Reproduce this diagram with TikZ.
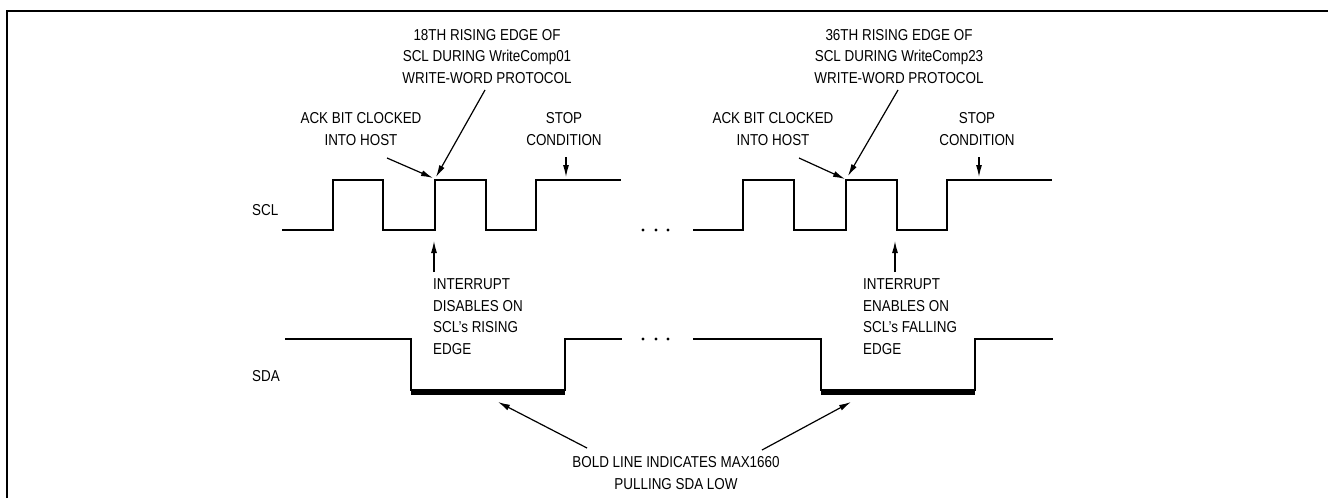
\documentclass[tikz,border=0pt]{standalone}
\usepackage{fontspec}
\setmainfont[FakeStretch=0.85]{Liberation Sans}
\usetikzlibrary{arrows.meta,positioning}

\begin{document}
\begin{tikzpicture}[x=1pt, y=-1pt, >={Latex[length=12pt,width=6pt]},
  lbl/.style={font=\fontsize{15.8}{21.5}\selectfont, align=center, inner sep=0pt},
  note/.style={lbl, align=left, anchor=west},
  wave/.style={line width=1.5pt},
  bold/.style={line width=5pt},
  ptr/.style={->, line width=1.2pt}]
  \useasboundingbox (0,0) rectangle (1328,498);
  \draw[line width=2.5pt] (7,498) -- (7,11) -- (1328,11);

  \node[lbl, anchor=west] (SCL) at (252,210) {SCL};
  \node[lbl, anchor=west] (SDA) at (252,376) {SDA};

  \node[lbl] (Edge18) at (487,56.5) {18TH RISING EDGE OF\\SCL DURING WriteComp01\\WRITE-WORD PROTOCOL};
  \node[lbl] (Ack1) at (361,129) {ACK BIT CLOCKED\\INTO HOST};
  \node[lbl] (Stop1) at (564,129) {STOP\\CONDITION};
  \node[lbl] (Edge36) at (899,56.5) {36TH RISING EDGE OF\\SCL DURING WriteComp23\\WRITE-WORD PROTOCOL};
  \node[lbl] (Ack2) at (773,129) {ACK BIT CLOCKED\\INTO HOST};
  \node[lbl] (Stop2) at (977,129) {STOP\\CONDITION};
  \node[note] (IntDis) at (433,316.5) {INTERRUPT\\DISABLES ON\\SCL’s RISING\\EDGE};
  \node[note] (IntEn) at (863,316.5) {INTERRUPT\\ENABLES ON\\SCL’s FALLING\\EDGE};
  \node[lbl] (Bold) at (676,473) {BOLD LINE INDICATES MAX1660\\PULLING SDA LOW};

  \draw[wave] (282,230) -- (333,230) -- (333,180) -- (383,180) -- (383,230) -- (435,230) -- (435,180)
    -- (486,180) -- (486,230) -- (536,230) -- (536,180) -- (621,180);
  \draw[wave] (693,230) -- (743,230) -- (743,180) -- (794,180) -- (794,230) -- (846,230) -- (846,180)
    -- (897,180) -- (897,230) -- (947,230) -- (947,180) -- (1052,180);
  \draw[wave] (285,339) -- (411,339) -- (411,390) -- (565,390) -- (565,339) -- (622,339);
  \draw[wave] (693,339) -- (821,339) -- (821,390) -- (975,390) -- (975,339) -- (1053,339);
  \draw[bold] (411,392.5) -- (565,392.5);
  \draw[bold] (821,392.5) -- (975,392.5);

  \foreach \x in {643,656,668} {
    \fill (\x,230) circle (1.6);
    \fill (\x,339) circle (1.6);
  }

  \coordinate (e18s) at (485,90);   \coordinate (e18t) at (436,177);
  \coordinate (a1s) at (387,158);   \coordinate (a1t) at (433,178);
  \coordinate (s1s) at (566,157);   \coordinate (s1t) at (566,177);
  \coordinate (e36s) at (898,90);   \coordinate (e36t) at (848,176);
  \coordinate (a2s) at (799,158);   \coordinate (a2t) at (845,179);
  \coordinate (s2s) at (979,157);   \coordinate (s2t) at (979,177);
  \coordinate (d1s) at (434,272);   \coordinate (d1t) at (434,241);
  \coordinate (n1s) at (895,272);   \coordinate (n1t) at (895,241);
  \coordinate (b1s) at (587,448);   \coordinate (b1t) at (498,402);
  \coordinate (b2s) at (762,450);   \coordinate (b2t) at (851,402);

  \draw[ptr] (e18s) -- (e18t);
  \draw[ptr] (a1s) -- (a1t);
  \draw[ptr] (s1s) -- (s1t);
  \draw[ptr] (e36s) -- (e36t);
  \draw[ptr] (a2s) -- (a2t);
  \draw[ptr] (s2s) -- (s2t);
  \draw[ptr] (d1s) -- (d1t);
  \draw[ptr] (n1s) -- (n1t);
  \draw[ptr] (b1s) -- (b1t);
  \draw[ptr] (b2s) -- (b2t);
\end{tikzpicture}
\end{document}
